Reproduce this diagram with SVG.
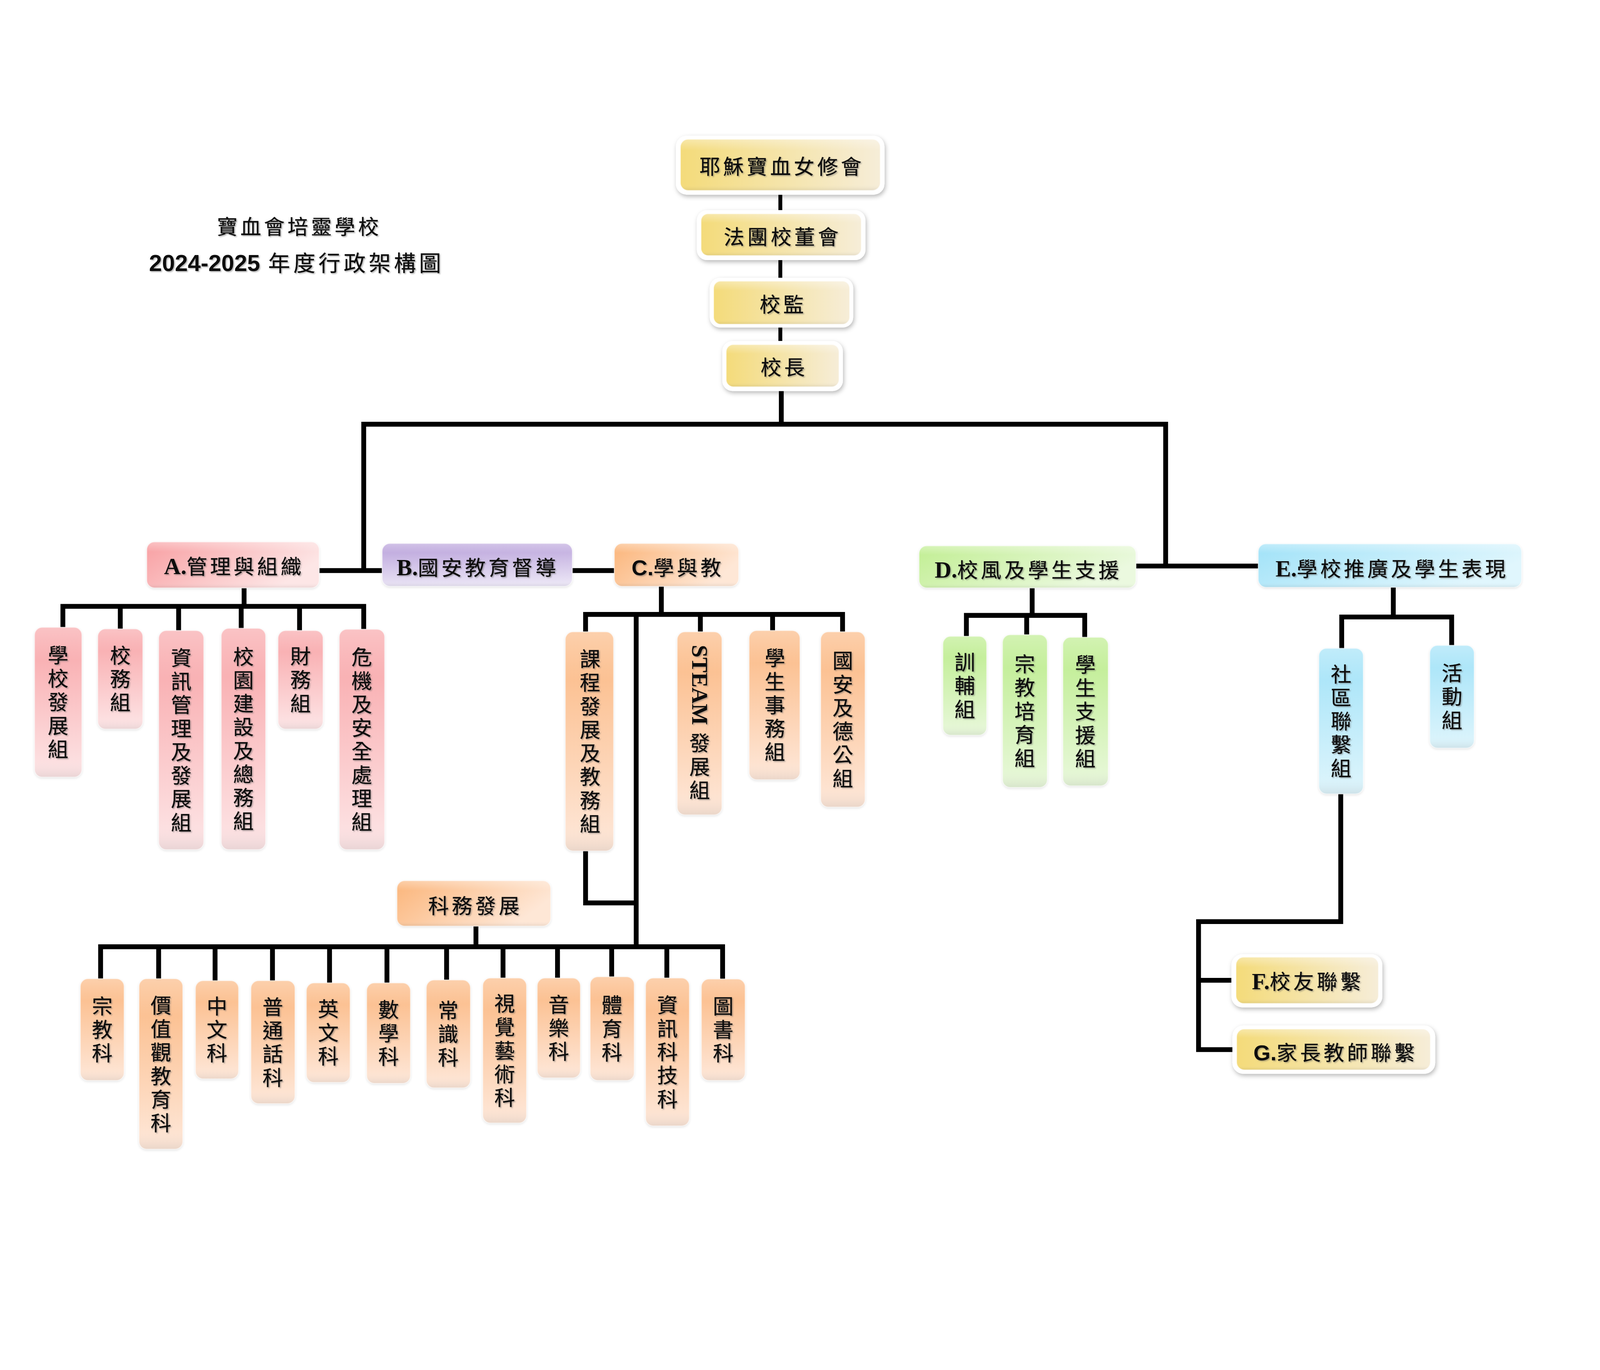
<svg xmlns="http://www.w3.org/2000/svg" width="4962" height="3508" viewBox="0 0 4962 3508" style="width:100vw;height:100vh;display:block">
<style>
.ln{fill:none;stroke:#000;stroke-width:15;stroke-linejoin:miter}
.zh{font-family:"Noto Sans CJK TC","Noto Sans CJK SC",sans-serif;font-size:64px;letter-spacing:9px;fill:#111;stroke:#111;stroke-width:0.5px}
.lat{font-family:"Liberation Serif",serif;font-weight:bold;font-size:72px;letter-spacing:0;stroke-width:0}
.lats{font-family:"Liberation Sans",sans-serif;font-weight:bold;font-size:68px;letter-spacing:0;stroke-width:0}
.v{writing-mode:vertical-rl}
.ts{filter:url(#ts)}
.wo{fill:#fff;filter:url(#sh)}
.bx{filter:url(#sh2)}
.gl{fill:url(#gl);stroke:#fff;stroke-opacity:.55;stroke-width:3}
</style>
<defs>
<filter id="sh" x="-20%" y="-30%" width="140%" height="160%"><feDropShadow dx="3" dy="6" stdDeviation="7" flood-color="#000" flood-opacity="0.28"/></filter>
<filter id="sh2" x="-20%" y="-20%" width="140%" height="140%"><feDropShadow dx="0" dy="3" stdDeviation="4" flood-color="#000" flood-opacity="0.12"/></filter>
<filter id="ts" x="-10%" y="-10%" width="120%" height="120%"><feDropShadow dx="3" dy="3" stdDeviation="2" flood-color="#555" flood-opacity="0.45"/></filter>
<linearGradient id="gl" x1="0" y1="0" x2="0" y2="1"><stop offset="0" stop-color="#fff" stop-opacity=".35"/><stop offset=".22" stop-color="#fff" stop-opacity="0"/><stop offset=".88" stop-color="#fff" stop-opacity="0"/><stop offset="1" stop-color="#000" stop-opacity=".08"/></linearGradient>
<linearGradient id="yl" x1="0" y1="0" x2="1" y2="0"><stop offset="0" stop-color="#F4DB7A"/><stop offset="1" stop-color="#F6EDD8"/></linearGradient>
<linearGradient id="pkH" x1="0" y1="0" x2="1" y2="0.4"><stop offset="0" stop-color="#F89FA2"/><stop offset="1" stop-color="#FDE6E6"/></linearGradient>
<linearGradient id="pkV" x1="0" y1="0" x2="0" y2="1"><stop offset="0" stop-color="#F8A3A6"/><stop offset="1" stop-color="#FDE6E7"/></linearGradient>
<linearGradient id="puH" x1="0" y1="0" x2="0.1" y2="1"><stop offset="0" stop-color="#B8A0DA"/><stop offset="1" stop-color="#EAE4F5"/></linearGradient>
<linearGradient id="orH" x1="0" y1="0" x2="1" y2="0.4"><stop offset="0" stop-color="#FBB57A"/><stop offset="1" stop-color="#FEE7D6"/></linearGradient>
<linearGradient id="orV" x1="0" y1="0" x2="0" y2="1"><stop offset="0" stop-color="#FBB780"/><stop offset="1" stop-color="#FEE8DA"/></linearGradient>
<linearGradient id="grH" x1="0" y1="0" x2="1" y2="0.4"><stop offset="0" stop-color="#C1EE92"/><stop offset="1" stop-color="#EBF9DF"/></linearGradient>
<linearGradient id="grV" x1="0" y1="0" x2="0" y2="1"><stop offset="0" stop-color="#BBEC8A"/><stop offset="1" stop-color="#E9F8DC"/></linearGradient>
<linearGradient id="cyH" x1="0" y1="0" x2="1" y2="0.4"><stop offset="0" stop-color="#A0E2F8"/><stop offset="1" stop-color="#E0F6FD"/></linearGradient>
<linearGradient id="cyV" x1="0" y1="0" x2="0" y2="1"><stop offset="0" stop-color="#A0E2F8"/><stop offset="1" stop-color="#DFF5FC"/></linearGradient>
</defs>
<rect width="4962" height="3508" fill="#fff"/>

<g id="title">
<text class="zh ts" x="928" y="356" text-anchor="middle">寶血會培靈學校</text>
<text class="zh ts" x="920" y="470" text-anchor="middle" style="font-size:68px;letter-spacing:10px"><tspan class="lats" style="font-size:72px">2024-2025</tspan> 年度行政架構圖</text>
</g>

<g id="connectors" class="ln">
<path d="M2420 233V281M2420 436V491M2420 645V687" stroke-width="12"/>
<path d="M2423 842V945"/>
<path d="M1128 1399V945H3615V1385"/>
<path d="M990 1399H1185"/>
<path d="M1775 1399H1905"/>
<path d="M3523 1385H3902"/>
<path d="M757 1453V1510"/>
<path d="M195 1575V1510H1128V1581M373 1510V1580M554 1510V1585M748 1510V1578M929 1510V1585"/>
<path d="M2051 1448V1535"/>
<path d="M1816 1589V1535H2613V1589M2172 1535V1589M2396 1535V1585"/>
<path d="M1973 1535V2566"/>
<path d="M1816 2269V2430H1973"/>
<path d="M1476 2502V2566"/>
<path d="M312 2665V2566H2241V2666M492 2566V2665M667 2566V2671M845 2566V2671M1022 2566V2678M1200 2566V2678M1385 2566V2669M1560 2566V2663M1729 2566V2663M1897 2566V2659M2068 2566V2663"/>
<path d="M3201 1453V1538"/>
<path d="M2997 1603V1538H3364V1606M3184 1538V1598"/>
<path d="M4321 1451V1543"/>
<path d="M4161 1640V1543H4502V1631"/>
<path d="M4158 2092V2488H3717V2885H3822"/>
<path d="M3717 2670H3819"/>
</g>

<g id="n-sisters">
<rect class="wo" x="2096" y="50" width="647" height="183" rx="34"/>
<rect x="2110" y="61" width="620" height="159" rx="24" fill="url(#yl)"/>
<rect class="gl" x="2110" y="61" width="620" height="159" rx="24"/>
<text class="zh ts" x="2425" y="170" text-anchor="middle">耶穌寶血女修會</text>
</g>
<g id="n-board">
<rect class="wo" x="2161" y="281" width="523" height="155" rx="32"/>
<rect x="2174" y="292" width="497" height="130" rx="22" fill="url(#yl)"/>
<rect class="gl" x="2174" y="292" width="497" height="130" rx="22"/>
<text class="zh ts" x="2427" y="387" text-anchor="middle">法團校董會</text>
</g>
<g id="n-supervisor">
<rect class="wo" x="2201" y="491" width="445" height="154" rx="32"/>
<rect x="2213" y="501" width="422" height="134" rx="22" fill="url(#yl)"/>
<rect class="gl" x="2213" y="501" width="422" height="134" rx="22"/>
<text class="zh ts" x="2429" y="597" text-anchor="middle">校監</text>
</g>
<g id="n-principal">
<rect class="wo" x="2240" y="687" width="374" height="155" rx="32"/>
<rect x="2252" y="698" width="350" height="131" rx="22" fill="url(#yl)"/>
<rect class="gl" x="2252" y="698" width="350" height="131" rx="22"/>
<text class="zh ts" x="2432" y="792" text-anchor="middle">校長</text>
</g>

<g id="n-a">
<rect class="bx" x="455" y="1310" width="535" height="143" rx="24" fill="url(#pkH)"/>
<rect class="gl" x="455" y="1310" width="535" height="143" rx="24"/>
<text class="zh ts" x="726" y="1410" text-anchor="middle"><tspan class="lat">A.</tspan>管理與組織</text>
</g>
<g id="n-b">
<rect class="bx" x="1185" y="1315" width="590" height="133" rx="24" fill="url(#puH)"/>
<rect class="gl" x="1185" y="1315" width="590" height="133" rx="24"/>
<text class="zh ts" x="1482" y="1414" text-anchor="middle"><tspan class="lat">B.</tspan>國安教育督導</text>
</g>
<g id="n-c">
<rect class="bx" x="1905" y="1315" width="386" height="133" rx="24" fill="url(#orH)"/>
<rect class="gl" x="1905" y="1315" width="386" height="133" rx="24"/>
<text class="zh ts" x="2102" y="1414" text-anchor="middle"><tspan class="lats">C.</tspan>學與教</text>
</g>
<g id="n-d">
<rect class="bx" x="2850" y="1322" width="673" height="131" rx="24" fill="url(#grH)"/>
<rect class="gl" x="2850" y="1322" width="673" height="131" rx="24"/>
<text class="zh ts" x="3189" y="1421" text-anchor="middle"><tspan class="lat">D.</tspan>校風及學生支援</text>
</g>
<g id="n-e">
<rect class="bx" x="3902" y="1316" width="817" height="135" rx="24" fill="url(#cyH)"/>
<rect class="gl" x="3902" y="1316" width="817" height="135" rx="24"/>
<text class="zh ts" x="4317" y="1417" text-anchor="middle"><tspan class="lat">E.</tspan>學校推廣及學生表現</text>
</g>

<g id="n-a1"><rect class="bx" x="107" y="1575" width="147" height="465" rx="24" fill="url(#pkV)"/><rect class="gl" x="107" y="1575" width="147" height="465" rx="24"/><text class="zh v ts" x="180" y="1811" text-anchor="middle">學校發展組</text></g>
<g id="n-a2"><rect class="bx" x="303" y="1580" width="140" height="311" rx="24" fill="url(#pkV)"/><rect class="gl" x="303" y="1580" width="140" height="311" rx="24"/><text class="zh v ts" x="373" y="1739" text-anchor="middle">校務組</text></g>
<g id="n-a3"><rect class="bx" x="492" y="1585" width="140" height="680" rx="24" fill="url(#pkV)"/><rect class="gl" x="492" y="1585" width="140" height="680" rx="24"/><text class="zh v ts" x="562" y="1929" text-anchor="middle">資訊管理及發展組</text></g>
<g id="n-a4"><rect class="bx" x="686" y="1578" width="138" height="687" rx="24" fill="url(#pkV)"/><rect class="gl" x="686" y="1578" width="138" height="687" rx="24"/><text class="zh v ts" x="755" y="1925" text-anchor="middle">校園建設及總務組</text></g>
<g id="n-a5"><rect class="bx" x="862" y="1585" width="140" height="306" rx="24" fill="url(#pkV)"/><rect class="gl" x="862" y="1585" width="140" height="306" rx="24"/><text class="zh v ts" x="932" y="1742" text-anchor="middle">財務組</text></g>
<g id="n-a6"><rect class="bx" x="1052" y="1581" width="141" height="684" rx="24" fill="url(#pkV)"/><rect class="gl" x="1052" y="1581" width="141" height="684" rx="24"/><text class="zh v ts" x="1122" y="1927" text-anchor="middle">危機及安全處理組</text></g>

<g id="n-c1"><rect class="bx" x="1753" y="1589" width="150" height="680" rx="24" fill="url(#orV)"/><rect class="gl" x="1753" y="1589" width="150" height="680" rx="24"/><text class="zh v ts" x="1830" y="1933" text-anchor="middle">課程發展及教務組</text></g>
<g id="n-c2"><rect class="bx" x="2100" y="1589" width="139" height="568" rx="24" fill="url(#orV)"/><rect class="gl" x="2100" y="1589" width="139" height="568" rx="24"/><text class="zh v ts" x="2170" y="1875" text-anchor="middle"><tspan class="lat" style="font-size:70px">STEAM</tspan> 發展組</text></g>
<g id="n-c3"><rect class="bx" x="2323" y="1585" width="158" height="463" rx="24" fill="url(#orV)"/><rect class="gl" x="2323" y="1585" width="158" height="463" rx="24"/><text class="zh v ts" x="2403" y="1820" text-anchor="middle">學生事務組</text></g>
<g id="n-c4"><rect class="bx" x="2545" y="1589" width="138" height="544" rx="24" fill="url(#orV)"/><rect class="gl" x="2545" y="1589" width="138" height="544" rx="24"/><text class="zh v ts" x="2614" y="1865" text-anchor="middle">國安及德公組</text></g>

<g id="n-subj">
<rect class="bx" x="1231" y="2361" width="477" height="141" rx="24" fill="url(#orH)"/>
<rect class="gl" x="1231" y="2361" width="477" height="141" rx="24"/>
<text class="zh ts" x="1474" y="2463" text-anchor="middle">科務發展</text>
</g>

<g id="n-s1"><rect class="bx" x="249" y="2665" width="136" height="316" rx="24" fill="url(#orV)"/><rect class="gl" x="249" y="2665" width="136" height="316" rx="24"/><text class="zh v ts" x="317" y="2827" text-anchor="middle">宗教科</text></g>
<g id="n-s2"><rect class="bx" x="431" y="2665" width="136" height="529" rx="24" fill="url(#orV)"/><rect class="gl" x="431" y="2665" width="136" height="529" rx="24"/><text class="zh v ts" x="499" y="2934" text-anchor="middle">價值觀教育科</text></g>
<g id="n-s3"><rect class="bx" x="606" y="2671" width="134" height="305" rx="24" fill="url(#orV)"/><rect class="gl" x="606" y="2671" width="134" height="305" rx="24"/><text class="zh v ts" x="673" y="2827" text-anchor="middle">中文科</text></g>
<g id="n-s4"><rect class="bx" x="778" y="2671" width="137" height="382" rx="24" fill="url(#orV)"/><rect class="gl" x="778" y="2671" width="137" height="382" rx="24"/><text class="zh v ts" x="846" y="2866" text-anchor="middle">普通話科</text></g>
<g id="n-s5"><rect class="bx" x="950" y="2678" width="136" height="309" rx="24" fill="url(#orV)"/><rect class="gl" x="950" y="2678" width="136" height="309" rx="24"/><text class="zh v ts" x="1018" y="2836" text-anchor="middle">英文科</text></g>
<g id="n-s6"><rect class="bx" x="1137" y="2678" width="136" height="312" rx="24" fill="url(#orV)"/><rect class="gl" x="1137" y="2678" width="136" height="312" rx="24"/><text class="zh v ts" x="1205" y="2838" text-anchor="middle">數學科</text></g>
<g id="n-s7"><rect class="bx" x="1322" y="2669" width="137" height="335" rx="24" fill="url(#orV)"/><rect class="gl" x="1322" y="2669" width="137" height="335" rx="24"/><text class="zh v ts" x="1390" y="2840" text-anchor="middle">常識科</text></g>
<g id="n-s8"><rect class="bx" x="1497" y="2663" width="136" height="450" rx="24" fill="url(#orV)"/><rect class="gl" x="1497" y="2663" width="136" height="450" rx="24"/><text class="zh v ts" x="1565" y="2892" text-anchor="middle">視覺藝術科</text></g>
<g id="n-s9"><rect class="bx" x="1666" y="2663" width="134" height="310" rx="24" fill="url(#orV)"/><rect class="gl" x="1666" y="2663" width="134" height="310" rx="24"/><text class="zh v ts" x="1733" y="2822" text-anchor="middle">音樂科</text></g>
<g id="n-s10"><rect class="bx" x="1830" y="2659" width="137" height="322" rx="24" fill="url(#orV)"/><rect class="gl" x="1830" y="2659" width="137" height="322" rx="24"/><text class="zh v ts" x="1898" y="2824" text-anchor="middle">體育科</text></g>
<g id="n-s11"><rect class="bx" x="2002" y="2663" width="136" height="459" rx="24" fill="url(#orV)"/><rect class="gl" x="2002" y="2663" width="136" height="459" rx="24"/><text class="zh v ts" x="2070" y="2896" text-anchor="middle">資訊科技科</text></g>
<g id="n-s12"><rect class="bx" x="2175" y="2666" width="136" height="315" rx="24" fill="url(#orV)"/><rect class="gl" x="2175" y="2666" width="136" height="315" rx="24"/><text class="zh v ts" x="2243" y="2827" text-anchor="middle">圖書科</text></g>

<g id="n-d1"><rect class="bx" x="2924" y="1603" width="136" height="307" rx="24" fill="url(#grV)"/><rect class="gl" x="2924" y="1603" width="136" height="307" rx="24"/><text class="zh v ts" x="2992" y="1760" text-anchor="middle">訓輔組</text></g>
<g id="n-d2"><rect class="bx" x="3109" y="1598" width="139" height="474" rx="24" fill="url(#grV)"/><rect class="gl" x="3109" y="1598" width="139" height="474" rx="24"/><text class="zh v ts" x="3178" y="1839" text-anchor="middle">宗教培育組</text></g>
<g id="n-d3"><rect class="bx" x="3296" y="1606" width="141" height="461" rx="24" fill="url(#grV)"/><rect class="gl" x="3296" y="1606" width="141" height="461" rx="24"/><text class="zh v ts" x="3366" y="1840" text-anchor="middle">學生支援組</text></g>

<g id="n-e1"><rect class="bx" x="4090" y="1640" width="138" height="452" rx="24" fill="url(#cyV)"/><rect class="gl" x="4090" y="1640" width="138" height="452" rx="24"/><text class="zh v ts" x="4159" y="1870" text-anchor="middle">社區聯繫組</text></g>
<g id="n-e2"><rect class="bx" x="4434" y="1631" width="138" height="319" rx="24" fill="url(#cyV)"/><rect class="gl" x="4434" y="1631" width="138" height="319" rx="24"/><text class="zh v ts" x="4503" y="1794" text-anchor="middle">活動組</text></g>

<g id="n-f">
<rect class="wo" x="3819" y="2589" width="468" height="165" rx="34"/>
<rect x="3833" y="2598" width="442" height="144" rx="24" fill="url(#yl)"/>
<rect class="gl" x="3833" y="2598" width="442" height="144" rx="24"/>
<text class="zh ts" x="4056" y="2698" text-anchor="middle"><tspan class="lat">F.</tspan>校友聯繫</text>
</g>
<g id="n-g">
<rect class="wo" x="3822" y="2810" width="629" height="150" rx="34"/>
<rect x="3835" y="2821" width="601" height="127" rx="24" fill="url(#yl)"/>
<rect class="gl" x="3835" y="2821" width="601" height="127" rx="24"/>
<text class="zh ts" x="4142" y="2918" text-anchor="middle"><tspan class="lats">G.</tspan>家長教師聯繫</text>
</g>
</svg>
